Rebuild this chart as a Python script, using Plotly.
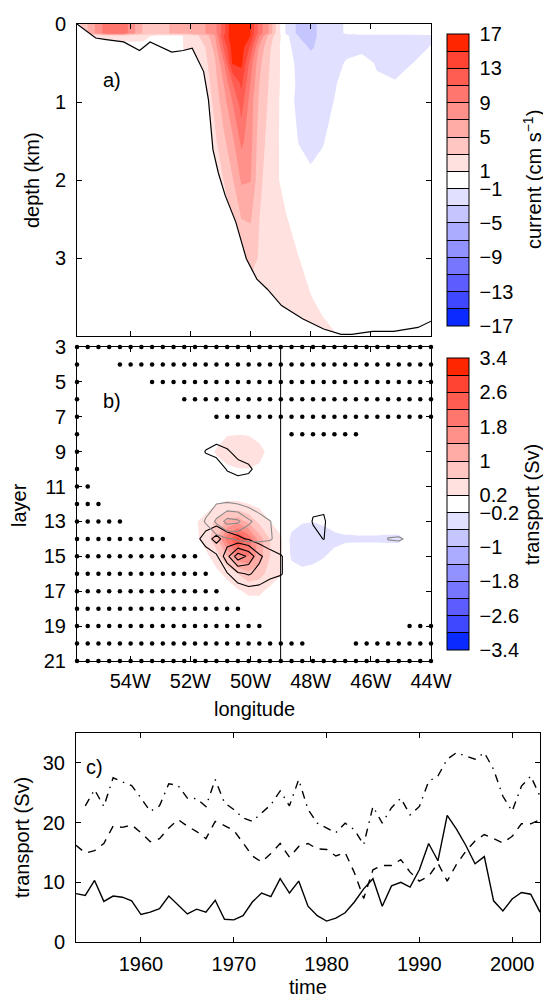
import numpy as np
import plotly.graph_objects as go

FONT = "Liberation Sans, Arial, Helvetica, sans-serif"
FS = 20

# ---------------- panel a: velocity section ----------------
lon_a = [-55.77, -55.3, -54.8, -54.2, -53.6, -53.0, -52.4, -51.9, -51.5, -51.2, -50.9, -50.6, -50.3, -50.0,
         -49.7, -49.4, -49.1, -48.8, -48.4, -48.0, -47.6, -47.2, -46.8, -46.3, -45.8, -45.2, -44.6, -44.0]
depth_a = [0.0, 0.12, 0.15, 0.3, 0.5, 0.75, 1.0, 1.5, 2.0, 2.5, 3.0, 3.5, 4.0]
current_a = [
    [2, 6, 10, 10, 5, 4.5, 5.5, 6.5, 7, 8, 12, 17, 17, 15, 10, 7, 2, -1.5, -3.5, -3.5, -2.5, -1.5, -0.8, -0.5, -0.5, -0.5, -0.5, -0.5],
    [2, 6, 10, 10, 5, 4.5, 5.5, 6.5, 7, 8, 12, 17, 17, 15, 10, 7, 2, -1.5, -3.5, -3.5, -2.5, -1.5, -0.8, -0.5, -0.5, -0.5, -0.5, -0.5],
    [0, 1.5, 2, 2, 1.5, 0.5, 0.5, 2.2, 4, 6.5, 13, 16.5, 16.5, 15, 9, 4.5, 1.8, -0.5, -3.1, -3.5, -2.5, -1.5, -1.4, -1.4, -1.4, -1.4, -1.3, -1.2],
    [0, 0, 0, 0, 0.5, 0.5, 0.5, 2, 3, 5.5, 11, 16, 16, 12.5, 6.5, 3.5, 1.5, -0.5, -1.8, -3.3, -2.2, -1.5, -1.3, -1.3, -1.3, -1.3, -1.3, -0.95],
    [0, 0, 0, 0, 0, 0, 0.5, 1.5, 2.5, 4.5, 8.5, 15.2, 15.5, 10, 5.5, 3.2, 1.5, -0.3, -1.4, -2.0, -1.8, -1.3, -0.9, -0.6, -1.1, -1.3, -1.0, -0.3],
    [0, 0, 0, 0, 0, 0, 0, 1, 2, 4, 7, 11, 13.5, 9, 5, 3, 1.4, -0.2, -1.3, -1.6, -1.5, -1.1, -0.6, -0.3, -0.85, -0.95, -0.3, -0.1],
    [0, 0, 0, 0, 0, 0, 0, 0, 1.5, 3.5, 6, 9, 12, 8, 4.5, 2.8, 1.3, -0.3, -1.4, -1.5, -1.4, -0.95, -0.3, -0.2, -0.2, -0.2, -0.2, -0.1],
    [0, 0, 0, 0, 0, 0, 0, 0, 0, 2.5, 4.5, 6.5, 9.5, 7.8, 3.8, 2.5, 1.2, 0, -1.05, -1.3, -1.1, -0.5, -0.2, 0, 0, 0, 0, 0],
    [0, 0, 0, 0, 0, 0, 0, 0, 0, 0, 3, 4.8, 7.3, 7.1, 3.4, 2.2, 1.1, 0.5, -0.5, -0.8, -0.5, -0.2, 0, 0, 0, 0, 0, 0],
    [0, 0, 0, 0, 0, 0, 0, 0, 0, 0, 0, 3.5, 5.0, 5.2, 3.0, 2.0, 1.4, 1.05, 0.5, 0, 0, 0, 0, 0, 0, 0, 0, 0],
    [0, 0, 0, 0, 0, 0, 0, 0, 0, 0, 0, 0, 3.0, 3.4, 2.9, 2.3, 1.6, 1.3, 1.02, 0.5, 0, 0, 0, 0, 0, 0, 0, 0],
    [0, 0, 0, 0, 0, 0, 0, 0, 0, 0, 0, 0, 0, 2.5, 2.3, 2.0, 1.8, 1.6, 1.4, 1.05, 0.6, 0.2, 0, 0, 0, 0, 0, 0],
    [0, 0, 0, 0, 0, 0, 0, 0, 0, 0, 0, 0, 0, 0, 0, 2.0, 1.9, 1.8, 1.6, 1.5, 1.4, 1.1, 0.5, 0, 0, 0, 0, 0],
]
bathy_lon = [-55.77, -55.15, -54.80, -54.22, -53.69, -53.34, -52.62, -52.24, -51.94, -51.56, -51.40, -51.25,
             -51.07, -50.84, -50.49, -50.14, -49.79, -49.44, -48.97, -48.27, -47.57, -46.99, -46.64, -45.94,
             -45.24, -44.43, -44.0]
bathy_depth = [0, 0.18, 0.20, 0.23, 0.34, 0.23, 0.36, 0.34, 0.31, 0.61, 0.97, 1.61, 1.91, 2.20, 2.54, 3.01,
               3.27, 3.40, 3.61, 3.78, 3.91, 3.98, 3.98, 3.94, 3.94, 3.89, 3.81]

# ---------------- panel b: layer transports ----------------
LON_GRID = np.linspace(-55.77, -44.0, 34)      # model grid longitudes (34 columns)
LAYERS = list(range(3, 22))                    # model layers 3..21
# transport field, columns 10..33, layers 7..18
F_COL0, F_LAY0 = 10, 7
transport_b = [
    [0] * 24,
    [0, 0, 0, 0, 0.17, 0.19, 0.17, 0.1] + [0] * 16,
    [0, 0, 0, 0.25, 0.45, 0.55, 0.5, 0.3, 0.1] + [0] * 15,
    [0, 0, 0, 0, 0.1, 0.18, 0.19, 0.15] + [0] * 16,
    [0] * 24,
    [0, 0, 0, 0.2, 0.24, 0.24, 0.2, 0.1] + [0] * 16,
    [0, 0.15, 0.35, 0.7, 1.1, 1.25, 0.9, 0.5, 0.2, 0.05, -0.05, -0.17, -0.19, -0.15, -0.05, 0, 0, 0, 0, 0, 0, 0, 0, 0],
    [0, 0.1, 0.35, 0.9, 2.0, 2.7, 2.1, 1.2, 0.6, 0.25, -0.3, -0.4, -0.4, -0.35, -0.3, -0.26, -0.25, -0.25, -0.25, -0.26, -0.26, -0.1, 0, 0],
    [0, 0, 0.1, 0.4, 1.0, 1.7, 1.8, 1.2, 0.6, 0.25, -0.25, -0.35, -0.3, -0.22, -0.1, 0, 0, 0, 0, 0, 0, 0, 0, 0],
    [0, 0, 0, 0.1, 0.3, 0.6, 0.9, 0.75, 0.45, 0.22, -0.05, -0.1, -0.08, 0, 0, 0, 0, 0, 0, 0, 0, 0, 0, 0],
    [0, 0, 0, 0, 0, 0.15, 0.27, 0.27, 0.1] + [0] * 15,
    [0] * 24,
]
layers_G = list(range(7, 19))
cols_G = LON_GRID[10:25]
black_field = [
    [0] * 15,
    [0, 0, 0, 0.2, 0.1] + [0] * 10,
    [0, 0, 0.55, 0.72, 0.58, 0.3, 0.1] + [0] * 8,
    [0, 0, 0, 0.1, 0.55, 0.75, 0.65, 0.2] + [0] * 7,
    [0, 0, 0, 0, 0.1, 0.1, 0.05] + [0] * 8,
    [0] * 12 + [0.35, 0.35, 0],
    [0, 0.1, 0.2, 0.25, 0.2, 0.1, 0, 0, 0, 0, 0, 0, 0.55, 0.6, 0],
    [0, 0.3, 0.75, 1.2, 0.7, 0.6, 0.45, 0.25, 0.1, 0, 0, 0, 0.3, 0.52, 0],
    [0, 0, 0.2, 0.4, 1.35, 2.3, 1.9, 1.1, 0.75, 0.55, 0.2, 0, 0, 0, 0],
    [0, 0, 0, 0.1, 0.45, 0.9, 1.05, 0.85, 0.65, 0.55, 0.2, 0, 0, 0, 0],
    [0, 0, 0, 0, 0, 0.15, 0.3, 0.3, 0.15] + [0] * 6,
    [0] * 15,
]
layers_H = list(range(10, 17))
cols_H = LON_GRID[10:34]
gray_field = [
    [0] * 24,
    [0] * 24,
    [0, 0, 0.3, 0.5, 0.55, 0.5, 0.35, 0.15] + [0] * 16,
    [0, 0.2, 0.55, 1.1, 1.7, 1.6, 1.1, 0.8, 0.52, 0.2] + [0] * 14,
    [0, 0, 0.15, 0.3, 0.45, 0.55, 0.6, 0.6, 0.55, 0.3] + [0] * 9 + [0.53, 0.57, 0.4, 0, 0],
    [0] * 24,
    [0] * 24,
]
section_lon = -49.0
# massless grid points (dots): layer -> column index ranges
dot_rows = {
    3: [(0, 33)], 4: [(0, 0), (4, 33)], 5: [(0, 0), (7, 33)], 6: [(0, 0), (10, 33)],
    7: [(0, 0), (13, 33)], 8: [(0, 0), (20, 26)], 9: [(0, 0)], 10: [(0, 0)], 11: [(0, 1)],
    12: [(0, 2)], 13: [(0, 4)], 14: [(0, 8)], 15: [(0, 11)], 16: [(0, 12)], 17: [(0, 13)],
    18: [(0, 15)], 19: [(0, 17), (31, 33)], 20: [(0, 21), (26, 33)], 21: [(0, 33)],
}

# ---------------- panel c: time series ----------------
years = list(range(1953, 2004))
solid = [8.1, 7.8, 10.3, 6.8, 7.7, 7.5, 6.9, 4.6, 5.0, 5.6, 7.7, 6.2, 4.7, 5.5, 5.0, 7.0, 3.8, 3.7, 4.4, 6.7,
         8.2, 7.6, 10.6, 8.2, 10.2, 6.0, 4.4, 3.5, 4.0, 4.9, 6.7, 8.9, 10.6, 6.0, 9.4, 10.0, 9.2, 12.1, 16.5,
         13.6, 21.2, 18.9, 16.2, 13.1, 14.3, 6.9, 5.2, 7.2, 8.3, 8.0, 5.0]
dashed = [16.2, 14.9, 15.3, 16.5, 19.4, 19.2, 19.6, 18.3, 16.8, 17.3, 19.1, 20.5, 19.4, 18.5, 17.3, 20.2, 19.5,
          18.7, 16.6, 14.4, 13.4, 14.8, 16.5, 14.2, 16.0, 16.5, 15.6, 15.5, 14.4, 15.0, 11.6, 7.3, 12.1, 12.8,
          12.8, 13.8, 11.7, 10.2, 11.0, 13.2, 10.2, 13.0, 15.2, 16.9, 18.0, 17.3, 16.6, 17.7, 19.8, 19.8, 20.5]
dashdot = [None, 22.8, 25.5, 22.7, 27.5, 26.8, 26.2, 24.1, 21.9, 22.8, 26.5, 26.2, 24.1, 24.0, 22.7, 27.2, 23.3,
           22.2, 20.8, 20.2, 21.6, 23.0, 25.3, 22.8, 27.2, 22.2, 19.9, 19.1, 18.3, 19.9, 18.8, 16.3, 22.7, 19.9,
           22.5, 24.1, 21.3, 22.7, 26.9, 27.8, 30.6, 31.7, 31.1, 30.6, 31.7, 28.9, 24.4, 21.9, 26.1, 27.8, 24.4]

# ---------------- colours ----------------
band_colors = ["#0A2AFF", "#0A2AFF", "#3F48FF", "#5C5CFF", "#7676FF", "#9191FF", "#ABABFF", "#C6C6FF", "#E1E1FF",
               "#FFFFFF",
               "#FFE1DF", "#FFC6C2", "#FFABA6", "#FF918A", "#FF766E", "#FF5C52", "#FF4434", "#FF2600", "#FF2600"]
cscale = [[i / 18, c] for i, c in enumerate(band_colors)]
# stepped scale for the colour bars: 17 bands, from the lowest level to the highest
bar_scale = []
for i, c in enumerate(band_colors[1:18]):
    bar_scale.append([i / 17, c])
    bar_scale.append([(i + 1) / 17, c])

levels_a = list(range(-17, 18, 2))
lab_a = {17: "17", 13: "13", 9: "9", 5: "5", 1: "1", -1: "\u22121", -5: "\u22125", -9: "\u22129",
         -13: "\u221213", -17: "\u221217"}
levels_b = [round(-3.4 + 0.4 * i, 1) for i in range(18)]
lab_b = {3.4: "3.4", 2.6: "2.6", 1.8: "1.8", 1.0: "1", 0.2: "0.2", -0.2: "\u22120.2", -1.0: "\u22121",
         -1.8: "\u22121.8", -2.6: "\u22122.6", -3.4: "\u22123.4"}

# the page body keeps an 8 px margin, so the figure is sized to end at the window edge
OFF = 8
W, H = 551 - OFF, 998 - OFF
def px(x): return (x - OFF) / W
def py(y): return 1 - (y - OFF) / H

def cbar(levels, labels, ytop, ybot):
    return dict(x=px(447), xanchor="left", y=py((ytop + ybot) / 2), yanchor="middle",
                len=(ybot - ytop) / H, lenmode="fraction", thickness=22, thicknessmode="pixels",
                xpad=0, ypad=0, outlinewidth=1, outlinecolor="black",
                tickmode="array", tickvals=levels,
                ticktext=[("\u00a0" + labels[v]) if v in labels else "" for v in levels],
                ticks="inside", ticklen=22, tickwidth=1, tickcolor="black",
                tickfont=dict(family=FONT, size=FS, color="black"))

fig = go.Figure()

# panel a
fig.add_trace(go.Contour(x=lon_a, y=depth_a, z=current_a, xaxis="x", yaxis="y", showscale=False,
                         contours=dict(start=-17, end=17, size=2, coloring="fill", showlines=False),
                         colorscale=cscale, zmin=-18, zmax=18, line=dict(width=0, smoothing=0),
                         hoverinfo="skip"))
fig.add_trace(go.Scatter(x=bathy_lon + [-44.0, -55.77], y=bathy_depth + [4.3, 4.3], xaxis="x", yaxis="y",
                         mode="lines", fill="toself", fillcolor="white", line=dict(width=0),
                         showlegend=False, hoverinfo="skip"))
fig.add_trace(go.Scatter(x=bathy_lon, y=bathy_depth, xaxis="x", yaxis="y", mode="lines",
                         line=dict(color="black", width=1.2), showlegend=False, hoverinfo="skip"))
fig.add_trace(go.Scatter(x=[None], y=[None], xaxis="x", yaxis="y", mode="markers", showlegend=False,
                         marker=dict(color=[0], cmin=-17, cmax=17, colorscale=bar_scale, showscale=True,
                                     colorbar=cbar(levels_a, lab_a, 34, 326))))

# panel b
F_full = np.zeros((len(LAYERS), len(LON_GRID)))
F_arr = np.array(transport_b, dtype=float)
F_full[F_LAY0 - 3:F_LAY0 - 3 + F_arr.shape[0], F_COL0:F_COL0 + F_arr.shape[1]] = F_arr
fig.add_trace(go.Contour(x=LON_GRID, y=LAYERS, z=F_full, xaxis="x2", yaxis="y2", showscale=False,
                         contours=dict(start=-3.4, end=3.4, size=0.4, coloring="fill", showlines=False),
                         colorscale=cscale, zmin=-3.6, zmax=3.6, line=dict(width=0, smoothing=0),
                         hoverinfo="skip"))
fig.add_trace(go.Contour(x=cols_G, y=layers_G, z=black_field, xaxis="x2", yaxis="y2", showscale=False,
                         contours=dict(start=0.5, end=2.0, size=0.5, coloring="none"),
                         line=dict(color="black", width=1.1, smoothing=0), hoverinfo="skip"))
fig.add_trace(go.Contour(x=cols_H, y=layers_H, z=gray_field, xaxis="x2", yaxis="y2", showscale=False,
                         contours=dict(start=0.5, end=1.5, size=0.5, coloring="none"),
                         line=dict(color="#8a8a8a", width=1.1, smoothing=0), hoverinfo="skip"))
fig.add_trace(go.Scatter(x=[section_lon, section_lon], y=[3, 21], xaxis="x2", yaxis="y2", mode="lines",
                         line=dict(color="black", width=1), showlegend=False, hoverinfo="skip"))
dx, dy = [], []
for lay, ranges in dot_rows.items():
    for a, b in ranges:
        for k in range(a, b + 1):
            dx.append(LON_GRID[k]); dy.append(lay)
fig.add_trace(go.Scatter(x=dx, y=dy, xaxis="x2", yaxis="y2", mode="markers", cliponaxis=False,
                         marker=dict(color="black", size=4.5, line=dict(width=0)),
                         showlegend=False, hoverinfo="skip"))
fig.add_trace(go.Scatter(x=[None], y=[None], xaxis="x2", yaxis="y2", mode="markers", showlegend=False,
                         marker=dict(color=[0], cmin=-3.4, cmax=3.4, colorscale=bar_scale, showscale=True,
                                     colorbar=cbar(levels_b, lab_b, 358, 650))))

# panel c
fig.add_trace(go.Scatter(x=years, y=solid, xaxis="x3", yaxis="y3", mode="lines",
                         line=dict(color="black", width=1.4), showlegend=False))
fig.add_trace(go.Scatter(x=years, y=dashed, xaxis="x3", yaxis="y3", mode="lines",
                         line=dict(color="black", width=1.4, dash="8px,7px"), showlegend=False))
fig.add_trace(go.Scatter(x=years, y=dashdot, xaxis="x3", yaxis="y3", mode="lines", connectgaps=False,
                         line=dict(color="black", width=1.4, dash="8px,6px,1.5px,6px"), showlegend=False))

ax = dict(showline=True, linecolor="black", linewidth=1, mirror="ticks", ticks="inside", ticklen=5,
          tickwidth=1, tickcolor="black", showgrid=False, zeroline=False,
          tickfont=dict(family=FONT, size=FS, color="black"))
lon_ticks = [-54, -52, -50, -48, -46, -44]
lon_text = ["54W", "52W", "50W", "48W", "46W", "44W"]
fig.update_layout(
    width=W, height=H, margin=dict(l=0, r=0, t=0, b=0, autoexpand=False),
    paper_bgcolor="white", plot_bgcolor="white", showlegend=False,
    xaxis=dict(ax, domain=[px(77), px(431)], range=[-55.77, -44], tickvals=lon_ticks, showticklabels=False,
               anchor="y"),
    yaxis=dict(ax, domain=[py(336), py(24)], range=[4, 0], tickvals=[0, 1, 2, 3], anchor="x",
               ticklabelstandoff=6),
    xaxis2=dict(ax, domain=[px(77), px(431)], range=[-55.77, -44], tickvals=lon_ticks, ticktext=lon_text,
                anchor="y2", ticklabelstandoff=2),
    yaxis2=dict(ax, domain=[py(661), py(347)], range=[21, 3], tickvals=list(range(3, 22, 2)), anchor="x2",
                ticklabelstandoff=6),
    xaxis3=dict(ax, domain=[px(76), px(540)], range=[1953, 2003], tickvals=[1960, 1970, 1980, 1990, 2000],
                anchor="y3", ticklabelstandoff=4),
    yaxis3=dict(ax, domain=[py(942), py(733)], range=[0, 35], tickvals=[0, 10, 20, 30], anchor="x3",
                ticklabelstandoff=6),
)

def note(text, x, y, angle=0, xanchor="center"):
    fig.add_annotation(text=text, x=px(x), y=py(y), xref="paper", yref="paper", showarrow=False,
                       textangle=angle, xanchor=xanchor, yanchor="middle",
                       font=dict(family=FONT, size=FS, color="black"))

note("depth (km)", 32, 180, -90)
note("layer", 19, 505, -90)
note("transport (Sv)", 22, 838, -90)
note("longitude", 254, 709)
note("time", 308, 987)
note("current (cm s<sup>\u22121</sup>)", 532, 180, -90)
note("transport (Sv)", 532, 505, -90)
note("a)", 101, 80, 0, "left")
note("b)", 101, 401, 0, "left")
note("c)", 84, 767, 0, "left")

fig.write_html("out.html")
